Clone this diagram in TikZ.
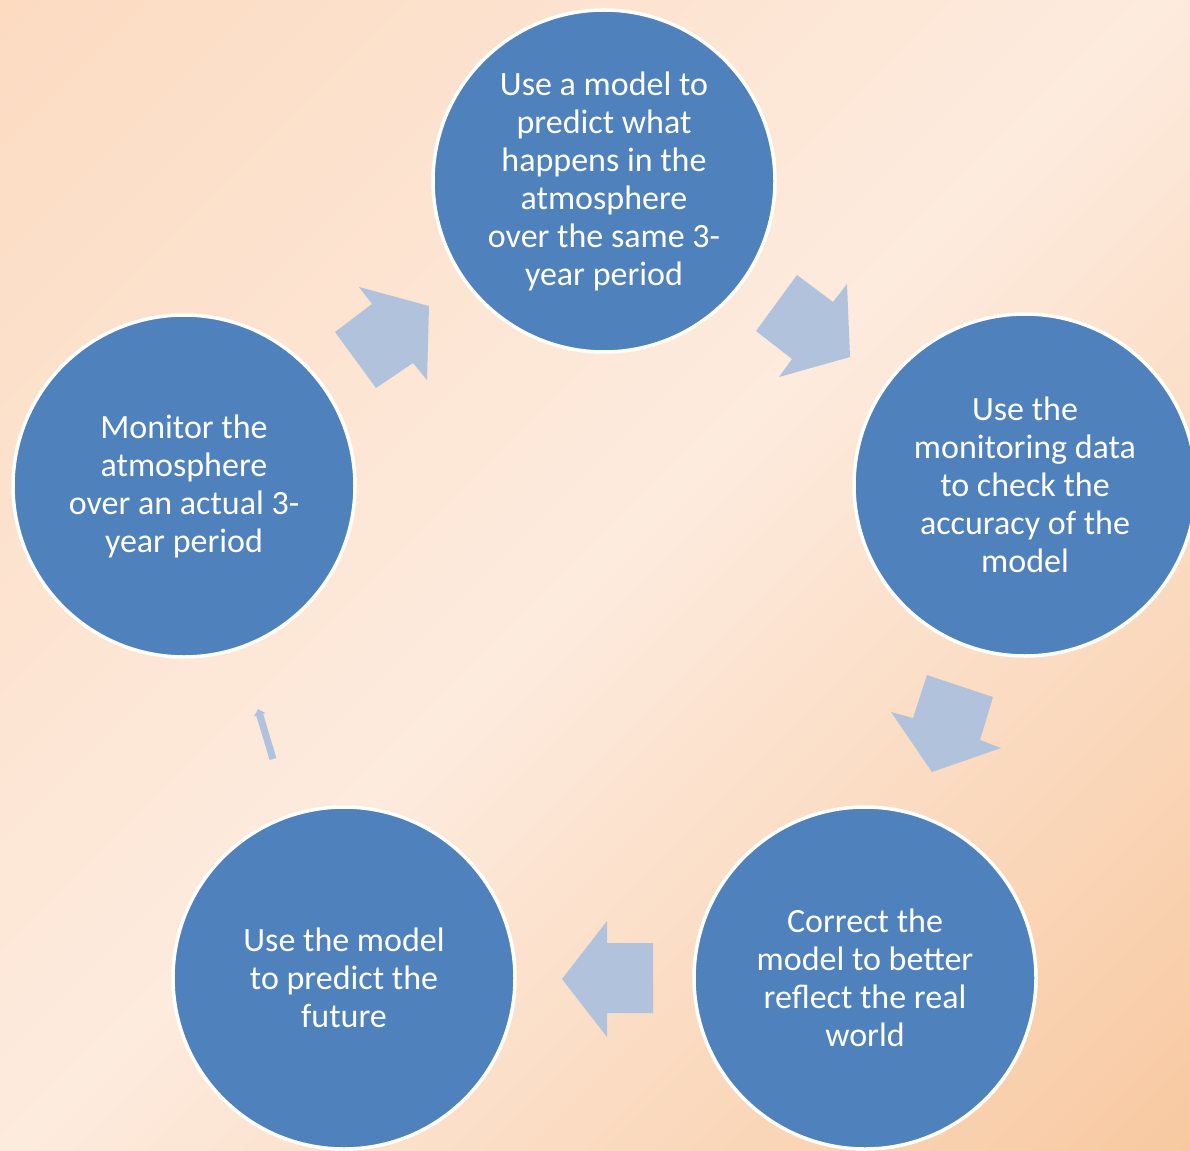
\documentclass[tikz,border=0pt]{standalone}
\usepackage{fontspec}
\setmainfont{Carlito}
\definecolor{stageblue}{HTML}{4F81BD}
\definecolor{flowblue}{HTML}{B1C2DD}
\definecolor{bgtl}{HTML}{FCDBC1}
\definecolor{bgmid}{HTML}{FDEBDE}
\definecolor{bgbr}{HTML}{F8C9A1}
% diagonal backdrop: peach corner, pale middle band, orange corner
\pgfdeclareverticalshading{backdrop}{100bp}{color(0bp)=(bgbr); color(14.6bp)=(bgbr);
  color(50bp)=(bgmid); color(85.4bp)=(bgtl); color(100bp)=(bgtl)}
\begin{document}
\begin{tikzpicture}[x=1pt,y=-1pt,
  stage/.style={circle,draw=white,line width=3.5pt,fill=stageblue,
    minimum size=342pt,inner sep=0pt,text=white,align=center,
    font=\fontsize{34}{38}\selectfont},
  flow/.style={fill=flowblue,draw=none}]
% background, drawn with an upright y axis so the shading angle reads normally
\path[use as bounding box] (0,0) rectangle (1190,1150);
\begin{scope}[y=1pt]
  \shade[shading=backdrop,shading angle=45] (0,-1150) rectangle (1190,0);
\end{scope}

% stages of the cycle
\node[stage,yshift=-2pt] (predict) at (604,179)
  {Use a model to\\predict what\\happens in the\\atmosphere\\over the same 3-\\year period};
\node[stage] (check) at (1025,485)
  {Use the\\monitoring data\\to check the\\accuracy of the\\model};
\node[stage] (correct) at (865,978)
  {Correct the\\model to better\\reflect the real\\world};
\node[stage] (future) at (344,978)
  {Use the model\\to predict the\\future};
\node[stage,yshift=-2pt] (monitor) at (184,484)
  {Monitor the\\atmosphere\\over an actual 3-\\year period};

% block arrows between stages
\fill[flow] (335,332) -- (372,304) -- (359,287) -- (429,306) -- (427,380)
  -- (413,363) -- (376,388) -- cycle;
\fill[flow] (797,275) -- (833,302) -- (847,284) -- (850,357) -- (779,377)
  -- (792,359) -- (756,331) -- cycle;
\fill[flow] (927,675) -- (993,697) -- (980,740) -- (1001,748) -- (932,772)
  -- (891,712) -- (913,718) -- cycle;
\fill[flow] (653,943) -- (653,1013) -- (607,1013) -- (607,1037) -- (562,979)
  -- (607,921) -- (607,943) -- cycle;
\fill[flow] (276.4,758.0) -- (263.1,713.8) -- (265.5,713.1) -- (258,709)
  -- (254.0,716.5) -- (256.3,715.8) -- (269.6,760.0) -- cycle;
\end{tikzpicture}
\end{document}
